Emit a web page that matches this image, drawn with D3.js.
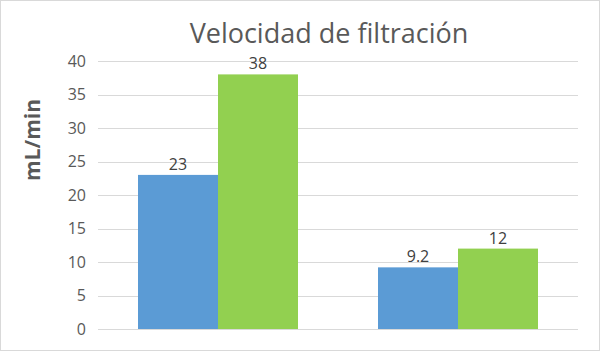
<!DOCTYPE html>
<html><head><meta charset="utf-8">
<script src="https://cdn.jsdelivr.net/npm/d3@7"></script>
<style>body{margin:0;background:#fff}svg{display:block}</style>
</head><body>
<svg id="c" width="600" height="351"></svg>
<script>
const categories = ["A", "B"];
const seriesNames = ["Serie 1", "Serie 2"];
const series1 = [23, 9.2];
const series2 = [38, 12];
const labels1 = ["23", "9.2"];
const labels2 = ["38", "12"];
const yTicks = [0, 5, 10, 15, 20, 25, 30, 35, 40];
const colors = ["#5B9BD5", "#92D050"];

const svg = d3.select("#c");
const W = 600, H = 351;
const m = {left: 98, right: 22, top: 61, bottom: 22};
const font = "'Open Sans', 'Noto Sans', sans-serif";

svg.append("rect").attr("x", 0.5).attr("y", 0.5).attr("width", W - 1).attr("height", H - 1)
  .attr("fill", "#fff").attr("stroke", "#D9D9D9");

const x = d3.scaleBand().domain(categories).range([m.left, W - m.right]).paddingInner(1/3).paddingOuter(1/6);
const xs = d3.scaleBand().domain(seriesNames).range([0, x.bandwidth()]);
const y = d3.scaleLinear().domain([0, 40]).range([329, 61]);

// gridlines
svg.append("g").selectAll("line").data(yTicks).join("line")
  .attr("x1", m.left).attr("x2", W - m.right)
  .attr("y1", d => Math.round(y(d)) + 0.5).attr("y2", d => Math.round(y(d)) + 0.5)
  .attr("stroke", "#D9D9D9").attr("stroke-width", 1);

// y axis labels
const ya = svg.append("g").attr("transform", `translate(${m.left - 12},0)`)
  .call(d3.axisLeft(y).tickValues(yTicks).tickSize(0).tickPadding(0));
ya.select(".domain").remove();
ya.selectAll("text").attr("fill", "#595959").attr("font-size", 16).attr("font-family", font);

const data = categories.map((c, i) => ({c, vals: [series1[i], series2[i]], labs: [labels1[i], labels2[i]]}));

const g = svg.append("g");
data.forEach(d => {
  d.vals.forEach((v, j) => {
    const bx = x(d.c) + xs(seriesNames[j]);
    g.append("rect").attr("x", bx).attr("y", y(v)).attr("width", xs.bandwidth()).attr("height", y(0) - y(v))
      .attr("fill", colors[j]);
    g.append("text").attr("x", bx + xs.bandwidth() / 2).attr("y", y(v) - 5)
      .attr("text-anchor", "middle").attr("fill", "#404040").attr("font-size", 16).attr("font-family", font)
      .text(d.labs[j]);
  });
});

// title
svg.append("text").attr("x", 329).attr("y", 43).attr("text-anchor", "middle")
  .attr("fill", "#595959").attr("font-size", 27).attr("font-family", font)
  .text("Velocidad de filtración");

// y label
svg.append("text").attr("transform", "translate(40,140) rotate(-90)").attr("text-anchor", "middle")
  .attr("fill", "#595959").attr("font-size", 21).attr("font-weight", "bold").attr("font-family", font)
  .text("mL/min");
</script>
</body></html>
